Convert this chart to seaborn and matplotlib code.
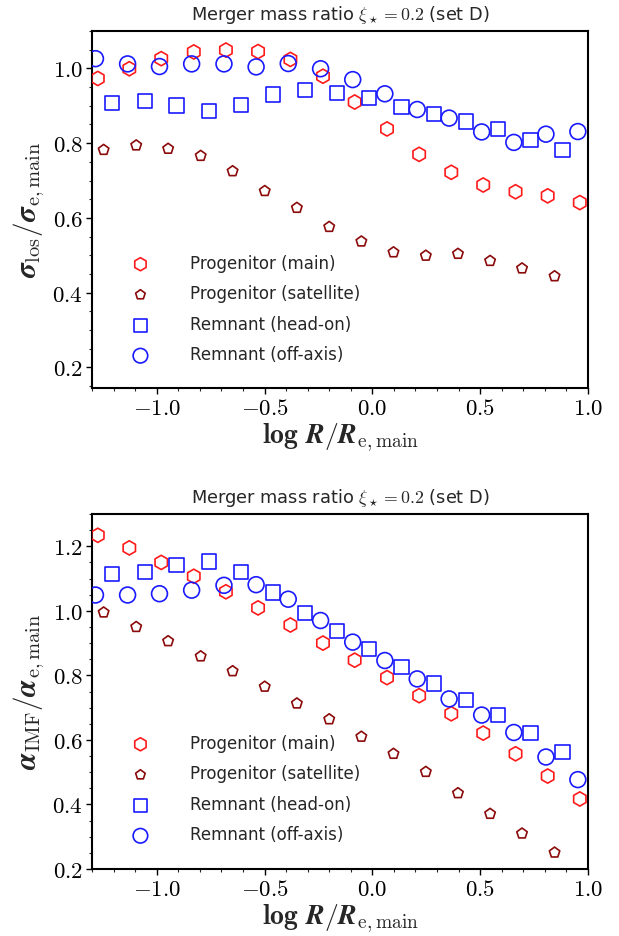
import matplotlib
matplotlib.use("Agg")
import matplotlib.pyplot as plt
import seaborn as sns
import pandas as pd
from matplotlib.ticker import MultipleLocator, FuncFormatter

sns.set_style("ticks")
plt.rcParams['font.family'] = ['DejaVu Sans']
plt.rcParams['mathtext.fontset'] = 'cm'

# ---- data ----
x_main = [-1.273, -1.127, -0.979, -0.828, -0.679, -0.530, -0.380, -0.229, -0.082, 0.068,
          0.217, 0.366, 0.514, 0.664, 0.813, 0.962]
x_sat = [-1.246, -1.095, -0.947, -0.796, -0.648, -0.499, -0.350, -0.200, -0.051, 0.098,
         0.248, 0.397, 0.546, 0.694, 0.845]
x_head = [-1.207, -1.056, -0.908, -0.759, -0.610, -0.460, -0.311, -0.163, -0.014, 0.135,
          0.285, 0.434, 0.583, 0.733, 0.882]
x_off = [-1.284, -1.135, -0.987, -0.838, -0.688, -0.539, -0.390, -0.240, -0.091, 0.058,
         0.208, 0.356, 0.507, 0.656, 0.805, 0.953]

sig_main = [0.973, 0.999, 1.026, 1.044, 1.049, 1.045, 1.024, 0.979, 0.910, 0.838,
            0.770, 0.722, 0.688, 0.670, 0.659, 0.641]
sig_sat = [0.782, 0.794, 0.785, 0.766, 0.725, 0.672, 0.627, 0.576, 0.537, 0.508,
           0.499, 0.504, 0.485, 0.465, 0.444]
sig_head = [0.908, 0.913, 0.901, 0.887, 0.902, 0.930, 0.943, 0.935, 0.920, 0.897,
            0.877, 0.858, 0.838, 0.809, 0.781]
sig_off = [1.026, 1.012, 1.005, 1.012, 1.012, 1.004, 1.013, 0.999, 0.970, 0.932,
           0.890, 0.867, 0.830, 0.802, 0.824, 0.831]

imf_main = [1.234, 1.195, 1.150, 1.107, 1.059, 1.009, 0.956, 0.900, 0.847, 0.793,
            0.737, 0.681, 0.621, 0.557, 0.488, 0.417]
imf_sat = [0.995, 0.950, 0.906, 0.859, 0.813, 0.765, 0.713, 0.664, 0.610, 0.557,
           0.501, 0.435, 0.371, 0.310, 0.251]
imf_head = [1.114, 1.121, 1.141, 1.153, 1.120, 1.057, 0.993, 0.937, 0.881, 0.827,
            0.775, 0.724, 0.677, 0.622, 0.562]
imf_off = [1.049, 1.049, 1.053, 1.064, 1.079, 1.081, 1.036, 0.970, 0.903, 0.846,
           0.789, 0.727, 0.677, 0.623, 0.547, 0.477]

labels = ["Progenitor (main)", "Progenitor (satellite)", "Remnant (head-on)", "Remnant (off-axis)"]
title = r"Merger mass ratio $\xi_\star = 0.2$ (set D)"

styles = [
    dict(marker="h", color="#ff1a1a", s=105),
    dict(marker="p", color="#8b0a0a", s=62),
    dict(marker="s", color="#1a1aff", s=105),
    dict(marker="o", color="#1a1aff", s=130),
]

fig = plt.figure(figsize=(6.19, 9.36), dpi=100)
ax1 = fig.add_axes([92/619, 1-388/936, 496/619, 357/936])
ax2 = fig.add_axes([92/619, 1-869/936, 496/619, 355/936])

fmt = FuncFormatter(lambda v, p: r"$%.1f$" % v)


def draw(ax, xs_list, ys_list, ylabel, ylim, yticks, legend_anchor):
    for xs, ys, lab, st in zip(xs_list, ys_list, labels, styles):
        df = pd.DataFrame({"x": xs, "y": ys})
        sns.scatterplot(data=df, x="x", y="y", ax=ax, marker=st["marker"], s=st["s"],
                        facecolor="none", edgecolor=st["color"], linewidth=1.2,
                        label=lab, clip_on=True, zorder=3)
    ax.set_xlim(-1.3, 1.0)
    ax.set_ylim(*ylim)
    ax.set_xticks([-1.0, -0.5, 0.0, 0.5, 1.0])
    ax.set_yticks(yticks)
    ax.xaxis.set_minor_locator(MultipleLocator(0.1))
    ax.yaxis.set_minor_locator(MultipleLocator(0.05))
    ax.xaxis.set_major_formatter(fmt)
    ax.yaxis.set_major_formatter(fmt)
    ax.tick_params(which="major", direction="out", length=4.0, width=1.0, labelsize=16.5, pad=2.5,
                   top=False, right=False, colors="black")
    ax.tick_params(which="minor", direction="out", length=2.4, width=0.8, top=False, right=False)
    for sp in ax.spines.values():
        sp.set_linewidth(1.5)
        sp.set_color("black")
    ax.set_xlabel(r"$\mathbf{log}\ \boldsymbol{R}/\boldsymbol{R}_{\rm e,main}$", fontsize=20, labelpad=1)
    ax.set_ylabel(ylabel, fontsize=21, labelpad=4)
    ax.set_title(title, fontsize=12.8, pad=8)
    ax.legend(loc="lower left", bbox_to_anchor=legend_anchor, frameon=False, fontsize=12,
              borderpad=0, borderaxespad=0, handletextpad=2.0, labelspacing=0.75,
              handlelength=2.0, scatterpoints=1, markerscale=0.92)


draw(ax1, [x_main, x_sat, x_head, x_off], [sig_main, sig_sat, sig_head, sig_off],
     r"$\boldsymbol{\sigma}_{\rm los}/\boldsymbol{\sigma}_{\rm e,main}$",
     (0.145, 1.1), [0.2, 0.4, 0.6, 0.8, 1.0], (0.064, 0.067))
draw(ax2, [x_main, x_sat, x_head, x_off], [imf_main, imf_sat, imf_head, imf_off],
     r"$\boldsymbol{\alpha}_{\rm IMF}/\boldsymbol{\alpha}_{\rm e,main}$",
     (0.2, 1.3), [0.2, 0.4, 0.6, 0.8, 1.0, 1.2], (0.064, 0.07))

fig.savefig("out.png", dpi=100)
